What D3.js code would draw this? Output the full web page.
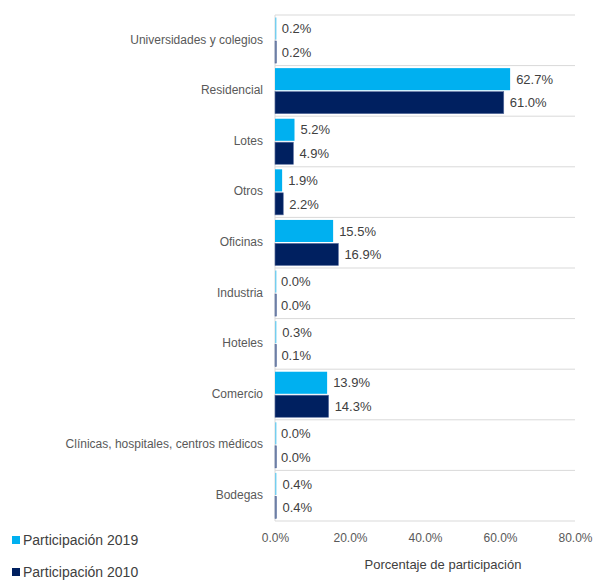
<!DOCTYPE html>
<html>
<head>
<meta charset="utf-8">
<script src="https://cdn.jsdelivr.net/npm/d3@7"></script>
<style>
  body { margin: 0; background: #fff; }
  svg { font-family: "Liberation Sans", Arial, sans-serif; }
</style>
</head>
<body>
<svg width="595" height="581"></svg>
<script>
var categories = ["Universidades y colegios", "Residencial", "Lotes", "Otros", "Oficinas",
    "Industria", "Hoteles", "Comercio", "Clínicas, hospitales, centros médicos", "Bodegas"];
var part2019 = [0.2, 62.7, 5.2, 1.9, 15.5, 0.0, 0.3, 13.9, 0.0, 0.4];
var part2010 = [0.2, 61.0, 4.9, 2.2, 16.9, 0.0, 0.1, 14.3, 0.0, 0.4];
var seriesNames = ["Participación 2019", "Participación 2010"];
var xTicks = [0, 20, 40, 60, 80];

var colors = ["#00b0f0", "#002060"];
var svg = d3.select("svg");
var margin = { top: 15, left: 275, right: 20 },
    plotW = 300, plotH = 506;
var g = svg.append("g").attr("transform", "translate(" + margin.left + "," + margin.top + ")");

var x = d3.scaleLinear().domain([0, 80]).range([0, plotW]);
var y = d3.scaleBand().domain(categories).range([0, plotH]).paddingInner(0.1).paddingOuter(0.05);
var yb = d3.scaleBand().domain(categories).range([0, plotH]);
var sub = d3.scaleBand().domain([0, 1]).range([0, y.bandwidth()]).paddingInner(0.06);

// horizontal separators
var seps = categories.map(function (c) { return yb(c); }).concat([plotH]);
g.selectAll("line.sep").data(seps).enter().append("line")
    .attr("x1", 0).attr("x2", plotW)
    .attr("y1", function (d) { return d; }).attr("y2", function (d) { return d; })
    .attr("stroke", "#d9d9d9").attr("stroke-width", 1);

g.append("line").attr("x1", 0).attr("x2", 0).attr("y1", 0).attr("y2", plotH)
    .attr("stroke", "#d9d9d9");

var data = [];
categories.forEach(function (c, i) {
    data.push({ cat: c, s: 0, v: part2019[i] });
    data.push({ cat: c, s: 1, v: part2010[i] });
});

g.selectAll("rect.bar").data(data).enter().append("rect")
    .attr("x", 0)
    .attr("y", function (d) { return y(d.cat) + sub(d.s); })
    .attr("width", function (d) { return Math.max(x(d.v), 1.5); })
    .attr("height", sub.bandwidth())
    .attr("fill", function (d) { return colors[d.s]; })
    .attr("fill-opacity", function (d) { return d.v < 1 ? 0.5 : 1; })
    .attr("stroke", function (d) { return d.s ? "#5a6fa0" : "none"; })
    .attr("stroke-width", 0.6);

g.selectAll("text.val").data(data).enter().append("text")
    .attr("x", function (d) { return x(d.v) + 6; })
    .attr("y", function (d) { return y(d.cat) + sub(d.s) + sub.bandwidth() / 2; })
    .attr("dy", "0.36em")
    .attr("font-size", 13)
    .attr("fill", "#404040")
    .text(function (d) { return d.v.toFixed(1) + "%"; });

g.selectAll("text.cat").data(categories).enter().append("text")
    .attr("x", -12)
    .attr("y", function (d) { return yb(d) + yb.bandwidth() / 2 - 1; })
    .attr("dy", "0.36em")
    .attr("text-anchor", "end")
    .attr("font-size", 12)
    .attr("fill", "#595959")
    .text(function (d) { return d; });

var xAxis = g.append("g").attr("transform", "translate(0," + plotH + ")")
    .call(d3.axisBottom(x).tickValues(xTicks).tickSize(0).tickPadding(12)
        .tickFormat(function (d) { return d.toFixed(1) + "%"; }));
xAxis.select(".domain").remove();
xAxis.selectAll("text").attr("font-size", 12).attr("fill", "#595959")
    .style("font-family", "Liberation Sans, Arial, sans-serif");

svg.append("text").attr("x", 443).attr("y", 569).attr("text-anchor", "middle")
    .attr("font-size", 13).attr("fill", "#404040").text("Porcentaje de participación");

var leg = svg.selectAll("g.leg").data(seriesNames).enter().append("g")
    .attr("transform", function (d, i) { return "translate(12," + (536 + i * 32) + ")"; });
leg.append("rect").attr("width", 8).attr("height", 8)
    .attr("fill", function (d, i) { return colors[i]; });
leg.append("text").attr("x", 11).attr("y", 4).attr("dy", "0.36em")
    .attr("font-size", 14).attr("fill", "#404040").text(function (d) { return d; });
</script>
</body>
</html>
